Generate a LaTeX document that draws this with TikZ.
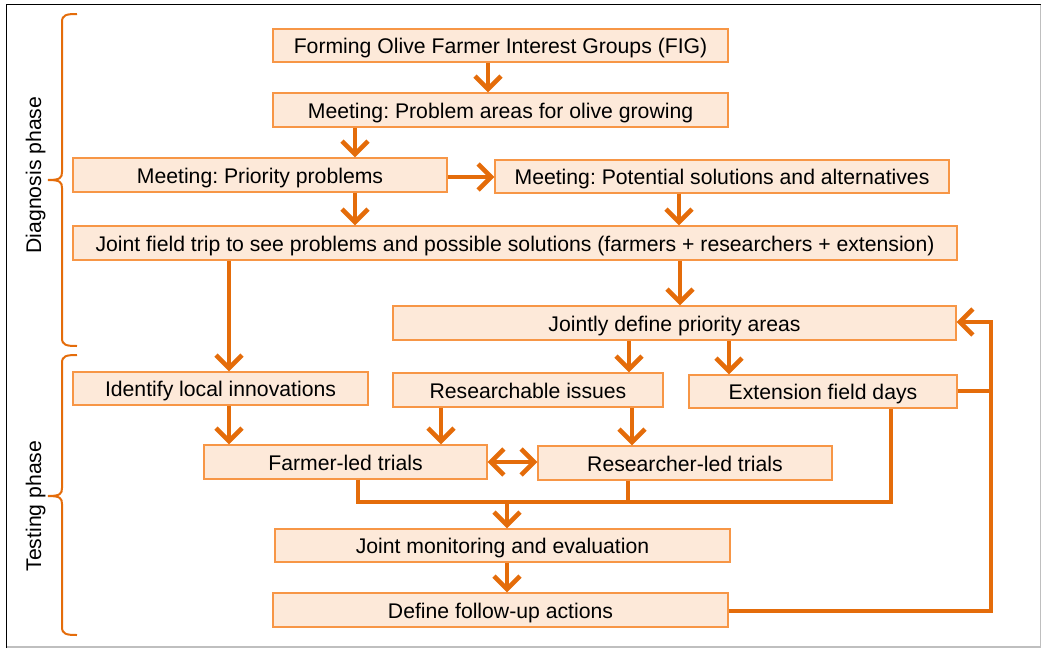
\documentclass[tikz,border=0pt]{standalone}
\usepackage{fontspec}
\setmainfont{Liberation Sans}
\frenchspacing
\usetikzlibrary{arrows.meta}
\definecolor{boxfill}{HTML}{FDE9D9}
\definecolor{boxline}{HTML}{F79646}
\definecolor{arrowc}{HTML}{E46C0A}
\begin{document}
\begin{tikzpicture}[x=1pt,y=-1pt,
  box/.style={draw=boxline, fill=boxfill, line width=1.3pt, inner sep=0pt,
    text height=19pt, text depth=3pt, font=\fontsize{21.2pt}{25pt}\selectfont, text=black},
  conn/.style={draw=arrowc, line width=4.6pt},
  arr/.style={conn, -{Straight Barb[length=13pt,width=26pt]}},
  darr/.style={conn, {Straight Barb[length=13pt,width=26pt]}-{Straight Barb[length=13pt,width=26pt]}},
  brace/.style={draw=arrowc, line width=2pt},
  phase/.style={rotate=90, anchor=base, inner sep=0pt, font=\fontsize{21.2pt}{25pt}\selectfont}]
\useasboundingbox (0,0) rectangle (1046,648);
% frame
\draw[black, line width=1.2pt] (6.5,648) -- (6.5,4.5) -- (1040.5,4.5);
\draw[black!25, line width=1.2pt] (1040.5,4.5) -- (1040.5,647) -- (6.5,647);
% boxes
\node[box, minimum width=455pt, minimum height=33pt] (fig) at (500.5,45.5) {Forming Olive Farmer Interest Groups (FIG)};
\node[box, minimum width=455pt, minimum height=34pt] (prob) at (500.5,110) {Meeting: Problem areas for olive growing};
\node[box, minimum width=374pt, minimum height=34pt] (prio) at (260,175) {Meeting: Priority problems};
\node[box, minimum width=454pt, minimum height=33pt] (pot) at (722,176.5) {Meeting: Potential solutions and alternatives};
\node[box, minimum width=884pt, minimum height=34pt] (trip) at (515,243) {Joint field trip to see problems and possible solutions (farmers + researchers + extension)};
\node[box, minimum width=563pt, minimum height=34pt] (jda) at (674.5,323) {Jointly define priority areas};
\node[box, minimum width=295pt, minimum height=33pt] (ident) at (220.5,388.5) {Identify local innovations};
\node[box, minimum width=270pt, minimum height=34pt] (res) at (528,390) {Researchable issues};
\node[box, minimum width=268pt, minimum height=33pt] (ext) at (823,391.5) {Extension field days};
\node[box, minimum width=283pt, minimum height=34pt] (farm) at (345.5,462) {Farmer-led trials};
\node[box, minimum width=294pt, minimum height=34pt] (rl) at (685,463) {Researcher-led trials};
\node[box, minimum width=455pt, minimum height=33pt] (jme) at (502.5,545.5) {Joint monitoring and evaluation};
\node[box, minimum width=455pt, minimum height=34pt] (fua) at (500.5,610) {Define follow-up actions};
% phase labels
\node[phase] (diag) at (41,175) {Diagnosis phase};
\node[phase] (test) at (41,506) {Testing phase};
% braces
\draw[brace] (77,14) .. controls (66,14) and (62,15) .. (62,22) -- (62,172)
  .. controls (62,178) and (60,180) .. (48,180) .. controls (60,180) and (62,182) .. (62,188)
  -- (62,338) .. controls (62,345) and (66,346) .. (77,346);
\draw[brace] (77,355) .. controls (66,355) and (62,356) .. (62,363) -- (62,488)
  .. controls (62,494) and (60,496) .. (48,496) .. controls (60,496) and (62,498) .. (62,504)
  -- (62,627) .. controls (62,634) and (66,635) .. (77,635);
% connectors
\draw[arr] (fig.south -| 488,0) -- (prob.north -| 488,0);
\draw[arr] (prob.south -| 355,0) -- (prio.north -| 355,0);
\draw[arr] (prio.east |- 0,177) -- (pot.west |- 0,177);
\draw[arr] (prio.south -| 355,0) -- (trip.north -| 355,0);
\draw[arr] (pot.south -| 679,0) -- (trip.north -| 679,0);
\draw[arr] (trip.south -| 680,0) -- (jda.north -| 680,0);
\draw[arr] (trip.south -| 229,0) -- (ident.north -| 229,0);
\draw[arr] (jda.south -| 629,0) -- (res.north -| 629,0);
\draw[arr] (jda.south -| 729,0) -- (ext.north -| 729,0);
\draw[arr] (ident.south -| 229,0) -- (farm.north -| 229,0);
\draw[arr] (res.south -| 441,0) -- (farm.north -| 441,0);
\draw[arr] (res.south -| 632,0) -- (rl.north -| 632,0);
\draw[darr] (farm.east |- 0,462) -- (rl.west |- 0,462);
\coordinate (jL) at (358,502);
\coordinate (jC) at (628,502);
\coordinate (jM) at (507,502);
\coordinate (jR) at (891,502);
\draw[conn] (farm.south -| jL) -- (jL) -- (jR) -- (ext.south -| jR);
\draw[conn] (rl.south -| jC) -- (jC);
\draw[arr] (jM) -- (jme.north -| jM);
\draw[arr] (jme.south -| 507,0) -- (fua.north -| 507,0);
\coordinate (fbB) at (991,611);
\coordinate (fbT) at (991,322);
\coordinate (fbE) at (991,391);
\draw[arr] (fua.east |- fbB) -- (fbB) -- (fbT) -- (jda.east |- fbT);
\draw[conn] (ext.east |- fbE) -- (fbE);
\end{tikzpicture}
\end{document}
